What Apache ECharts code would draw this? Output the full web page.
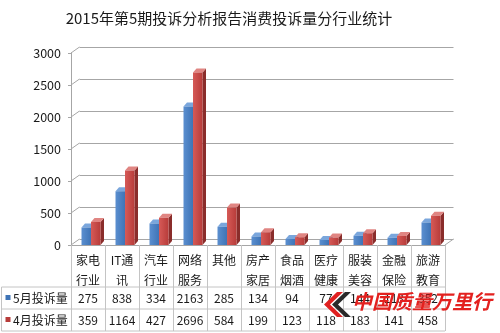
<!DOCTYPE html>
<html><head><meta charset="utf-8">
<script src="https://cdn.jsdelivr.net/npm/echarts@6/dist/echarts.min.js"></script>
<style>html,body{margin:0;padding:0;background:#fff}#c{width:500px;height:333px}</style>
</head><body><div id="c"></div>
<script>
const title = '2015年第5期投诉分析报告消费投诉量分行业统计';
const categories = ['家电\n行业','IT通\n讯','汽车\n行业','网络\n服务','其他','房产\n家居','食品\n烟酒','医疗\n健康','服装\n美容','金融\n保险','旅游\n教育'];
const may = [275, 838, 334, 2163, 285, 134, 94, 77, 144, 113, 352];
const apr = [359, 1164, 427, 2696, 584, 199, 123, 118, 183, 141, 458];
const seriesNames = ['5月投诉量', '4月投诉量'];
const yTicks = [0, 500, 1000, 1500, 2000, 2500, 3000];
const watermark = '中国质量万里行';

const FONT = '"Noto Sans CJK SC", "Noto Sans", sans-serif';
const faces = [
  {front: ['#5b8fd0', '#3f74b6'], side: '#2f5a8f', top: '#7aa6dc'},
  {front: ['#d65a57', '#b73c3a'], side: '#8a2d2b', top: '#e08582'}
];
const DX = 3.5, DY = -4, BW = 9.5;

function barSeries(si, values) {
  return {
    type: 'custom', name: seriesNames[si], xAxisIndex: 0, yAxisIndex: 0,
    data: values.map((v, i) => [i, v]),
    renderItem: function (params, api) {
      const i = api.value(0), v = api.value(1);
      const p0 = api.coord([i, 0]), p1 = api.coord([i, v]);
      const left = p0[0] - 6.5 + si * BW;
      const right = left + BW;
      const yb = p0[1], yt = p1[1];
      const f = faces[si];
      return {
        type: 'group',
        children: [
          {type: 'polygon', shape: {points: [[right, yb], [right + DX, yb + DY], [right + DX, yt + DY], [right, yt]]}, style: {fill: f.side}},
          {type: 'polygon', shape: {points: [[left, yt], [left + DX, yt + DY], [right + DX, yt + DY], [right, yt]]}, style: {fill: f.top}},
          {type: 'rect', shape: {x: left, y: yt, width: BW, height: yb - yt},
            style: {fill: new echarts.graphic.LinearGradient(0, 0, 1, 0, [{offset: 0, color: f.front[0]}, {offset: 1, color: f.front[1]}])}}
        ]
      };
    }
  };
}

const chart = echarts.init(document.getElementById('c'), null, {renderer: 'canvas'});
const option = {
  animation: false,
  title: {text: title, left: 224, top: 6, textAlign: 'center',
    textStyle: {fontFamily: FONT, fontSize: 15, fontWeight: 'normal', color: '#1a1a1a'}},
  grid: [
    {left: 71, top: 53, width: 374, height: 192},
    {left: 79.5, top: 47, width: 374, height: 192}
  ],
  xAxis: [
    {type: 'category', gridIndex: 0, data: categories, boundaryGap: true,
      axisLine: {lineStyle: {color: '#a6a6a6', width: 1}},
      axisTick: {show: true, interval: 0, length: 86, lineStyle: {color: '#c4c4c4'}},
      axisLabel: {interval: 0, margin: 5, lineHeight: 20, fontSize: 12, fontFamily: FONT, color: '#1a1a1a'}},
    {type: 'category', gridIndex: 1, data: categories, show: false}
  ],
  yAxis: [
    {type: 'value', gridIndex: 0, min: 0, max: 3000, interval: 500,
      axisLine: {show: true, lineStyle: {color: '#a6a6a6'}},
      axisTick: {show: true, length: 3, lineStyle: {color: '#a6a6a6'}},
      splitLine: {show: false},
      axisLabel: {margin: 10, fontSize: 12.5, fontFamily: FONT, color: '#1a1a1a', formatter: function (v) { return String(v); }}},
    {type: 'value', gridIndex: 1, min: 0, max: 3000, interval: 500,
      axisLine: {show: false}, axisTick: {show: false}, axisLabel: {show: false},
      splitLine: {show: true, lineStyle: {color: '#a6a6a6', width: 1}}}
  ],
  series: [barSeries(0, may), barSeries(1, apr)]
};
chart.setOption(option);

// decorations derived from the axes
const g = [];
const lineC = '#c4c4c4';
const x0 = chart.convertToPixel({gridIndex: 0}, [0, 0]);
const bandW = chart.convertToPixel({gridIndex: 0}, [1, 0])[0] - x0[0];
const gLeft = x0[0] - bandW / 2, gRight = gLeft + bandW * categories.length;
const y0 = x0[1];
const wallDX = 8.5, wallDY = -6;
yTicks.forEach(function (t) {
  const y = chart.convertToPixel({yAxisIndex: 0}, t);
  g.push({type: 'line', shape: {x1: gLeft, y1: y, x2: gLeft + wallDX, y2: y + wallDY}, style: {stroke: '#a6a6a6', lineWidth: 1}, z: 1});
});
g.push({type: 'line', shape: {x1: gRight, y1: y0, x2: gRight + wallDX, y2: y0 + wallDY}, style: {stroke: '#a6a6a6', lineWidth: 1}, z: 1});
// table rows
const rowTop = y0 + 42, rowH = 22;
[rowTop, rowTop + rowH, rowTop + 2 * rowH].forEach(function (y) {
  g.push({type: 'line', shape: {x1: 1.5, y1: y, x2: gRight, y2: y}, style: {stroke: lineC, lineWidth: 1}});
});
g.push({type: 'line', shape: {x1: 1.5, y1: rowTop, x2: 1.5, y2: rowTop + 2 * rowH}, style: {stroke: lineC, lineWidth: 1}});
[may, apr].forEach(function (vals, si) {
  const cy = rowTop + rowH * si + rowH / 2;
  g.push({type: 'rect', shape: {x: 5.5, y: cy - 3, width: 5, height: 5}, style: {fill: faces[si].front[1]}});
  g.push({type: 'text', x: 13, y: cy, style: {text: seriesNames[si], fontSize: 12, fontFamily: FONT, fill: '#1a1a1a', textVerticalAlign: 'middle', textAlign: 'left'}});
  vals.forEach(function (v, i) {
    const px = chart.convertToPixel({gridIndex: 0}, [i, v])[0];
    g.push({type: 'text', x: px, y: cy, style: {text: String(v), fontSize: 12, fontFamily: FONT, fill: '#1a1a1a', textAlign: 'center', textVerticalAlign: 'middle'}});
  });
});
// watermark
g.push({type: 'polygon', z: 10, shape: {points: [[345, 292], [351, 292], [338, 304.5], [351, 317], [345, 317], [332, 304.5]]}, style: {fill: '#2a2a2a'}});
g.push({type: 'polygon', z: 11, shape: {points: [[337, 292], [343, 292], [330, 304.5], [343, 317], [337, 317], [324, 304.5]]}, style: {fill: '#e02020'}});
g.push({type: 'text', z: 11, x: 352, y: 301, style: {text: watermark, fontSize: 20, fontWeight: 'bold', fontStyle: 'italic', fontFamily: FONT, fill: '#e3211f', textVerticalAlign: 'middle', textAlign: 'left'}});
chart.setOption({graphic: g});
</script>
</body></html>
